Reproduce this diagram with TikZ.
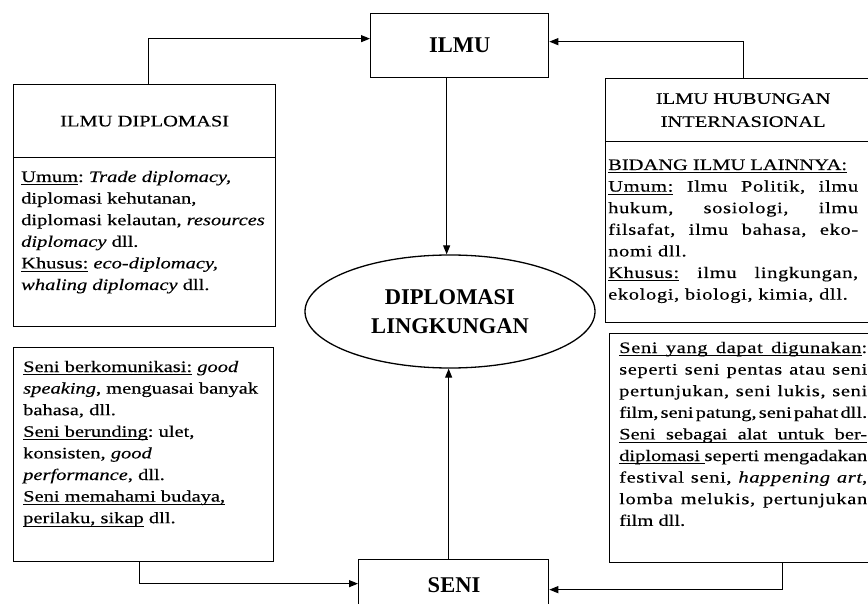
\documentclass[tikz,border=0pt]{standalone}
\usepackage{fontspec}
\setmainfont{Liberation Serif}[FakeStretch=1.28,FakeBold=0.3]
\newfontfamily\titlefam{Liberation Serif}
\newfontfamily\lsfam{Liberation Serif}[FakeStretch=1.28,FakeBold=0.3,LetterSpace=4]
\usetikzlibrary{arrows.meta,shapes.geometric}
\newcommand{\jl}[1]{\leavevmode\makebox[\linewidth][s]{\spaceskip=0pt\xspaceskip=0pt #1}}
\newcommand{\jls}[1]{\leavevmode\makebox[\linewidth][s]{\lsfam\spaceskip=0pt\xspaceskip=0pt #1}}
\newcommand{\jlt}[1]{\leavevmode\makebox[\linewidth][s]{\spaceskip=0.12em plus 1em\xspaceskip=0.12em plus 1em #1}}
\newcommand{\ulw}[1]{\leavevmode\setbox0\hbox{#1}\rlap{\vrule height -2.4pt depth 3.4pt width \wd0}\box0\relax}
\newcommand{\ulsp}{\leaders\hrule height -2.4pt depth 3.4pt\hskip\fontdimen2\font plus\fontdimen3\font minus\fontdimen4\font\relax}
\newcommand{\bodyfont}{\fontsize{16}{21.6}\selectfont\frenchspacing}
\newcommand{\titlefont}{\titlefam\bfseries\fontsize{22.5}{29}\selectfont}
\tikzset{
  box/.style={draw, line width=1.3pt, inner sep=0pt, anchor=north west},
  arr/.style={line width=1.1pt, -{Triangle[length=9pt,width=7pt]}},
  body/.style={anchor=base west, inner sep=0pt, align=justify, font=\bodyfont},
  head/.style={font=\fontsize{16}{23}\selectfont, align=center},
  title/.style={font=\titlefont, align=center}
}
\begin{document}
\begin{tikzpicture}[x=1pt,y=-1pt]
\useasboundingbox (0,0) rectangle (868,604);
\clip (0,0) rectangle (868,604);
\fill[white] (0,0) rectangle (868,604);

% boxes
\node[box, title, minimum width=178pt, minimum height=64pt] (ilmu) at (370,13) {ILMU};
\node[box, minimum width=190pt, minimum height=60pt] (seni) at (358,559) {};
\node[title, anchor=base, inner sep=0pt] (senitxt) at (454,592) {SENI};
\node[draw, line width=1.3pt, ellipse, inner sep=0pt, minimum width=290pt, minimum height=113pt, title] (el) at (450,311.5) {DIPLOMASI\\LINGKUNGAN};

\node[box, head, minimum width=262pt, minimum height=73pt] (diplH) at (13,84) {ILMU DIPLOMASI};
\node[box, minimum width=262pt, minimum height=169pt] (diplB) at (13,157) {};
\node[box, minimum width=260pt, minimum height=214pt] (seniL) at (13,347) {};
\node[box, head, minimum width=275pt, minimum height=63pt] (hiH) at (605,78) {ILMU HUBUNGAN\\INTERNASIONAL};
\node[box, minimum width=275pt, minimum height=181pt] (hiB) at (605,141) {};
\node[box, minimum width=271pt, minimum height=229pt] (seniR) at (609,333) {};

% texts
\node[body, text width=255pt] (t1) at (21,182) {\ulw{Umum}: \textit{Trade diplomacy,}\\
diplomasi kehutanan,\\
diplomasi kelautan, \textit{resources}\\
\textit{diplomacy} dll.\\
\ulw{Khusus:} \textit{eco-diplomacy,}\\
\textit{whaling diplomacy} dll.};

\node[body, text width=250pt] (t2) at (23,372) {\ulw{Seni berkomunikasi:} \textit{good}\\
\textit{speaking}, menguasai banyak\\
bahasa, dll.\\
\ulw{Seni berunding}: ulet,\\
konsisten, \textit{good}\\
\textit{performance}, dll.\\
\ulw{Seni memahami budaya,}\\
\ulw{perilaku, sikap} dll.};

\node[body, text width=250pt] (t3) at (608,170) {\ulw{BIDANG ILMU LAINNYA:}\\
\jls{\ulw{Umum:} Ilmu Politik, ilmu}\\
\jls{hukum, sosiologi, ilmu}\\
\jls{filsafat, ilmu bahasa, eko-}\\
{\lsfam nomi dll.}\\
\jls{\ulw{Khusus:} ilmu lingkungan,}\\
{\lsfam ekologi, biologi, kimia, dll.}};

\node[body, text width=248pt] (t4) at (619,353) {\jls{\ulw{Seni}\ulsp\ulw{yang}\ulsp\ulw{dapat}\ulsp\ulw{digunakan}:}\\
\jls{seperti seni pentas atau seni}\\
\jls{pertunjukan, seni lukis, seni}\\
\jlt{film, seni patung, seni pahat dll.}\\
\jl{\ulw{Seni}\ulsp\ulw{sebagai}\ulsp\ulw{alat}\ulsp\ulw{untuk}\ulsp\ulw{ber-}}\\
\jl{\ulw{diplomasi}\ulsp seperti mengadakan}\\
\jls{festival seni, \textit{happening art},}\\
\jls{lomba melukis, pertunjukan}\\
film dll.};

% connectors
\draw[arr] ([xshift=4pt]diplH.north) |- ([yshift=7pt]ilmu.west);
\draw[arr] (hiH.north) |- ([yshift=4pt]ilmu.east);
\draw[arr] ([xshift=-13pt]ilmu.south) -- ([xshift=-13pt]ilmu.south |- el.north);
\draw[arr] ([xshift=-5pt]seni.north) -- ([xshift=-5pt]seni.north |- el.south);
\draw[arr] ([xshift=-4pt]seniL.south) |- ([yshift=6pt]seni.west);
\draw[arr] ([xshift=37pt]seniR.south) |- (seni.east);
\end{tikzpicture}
\end{document}
